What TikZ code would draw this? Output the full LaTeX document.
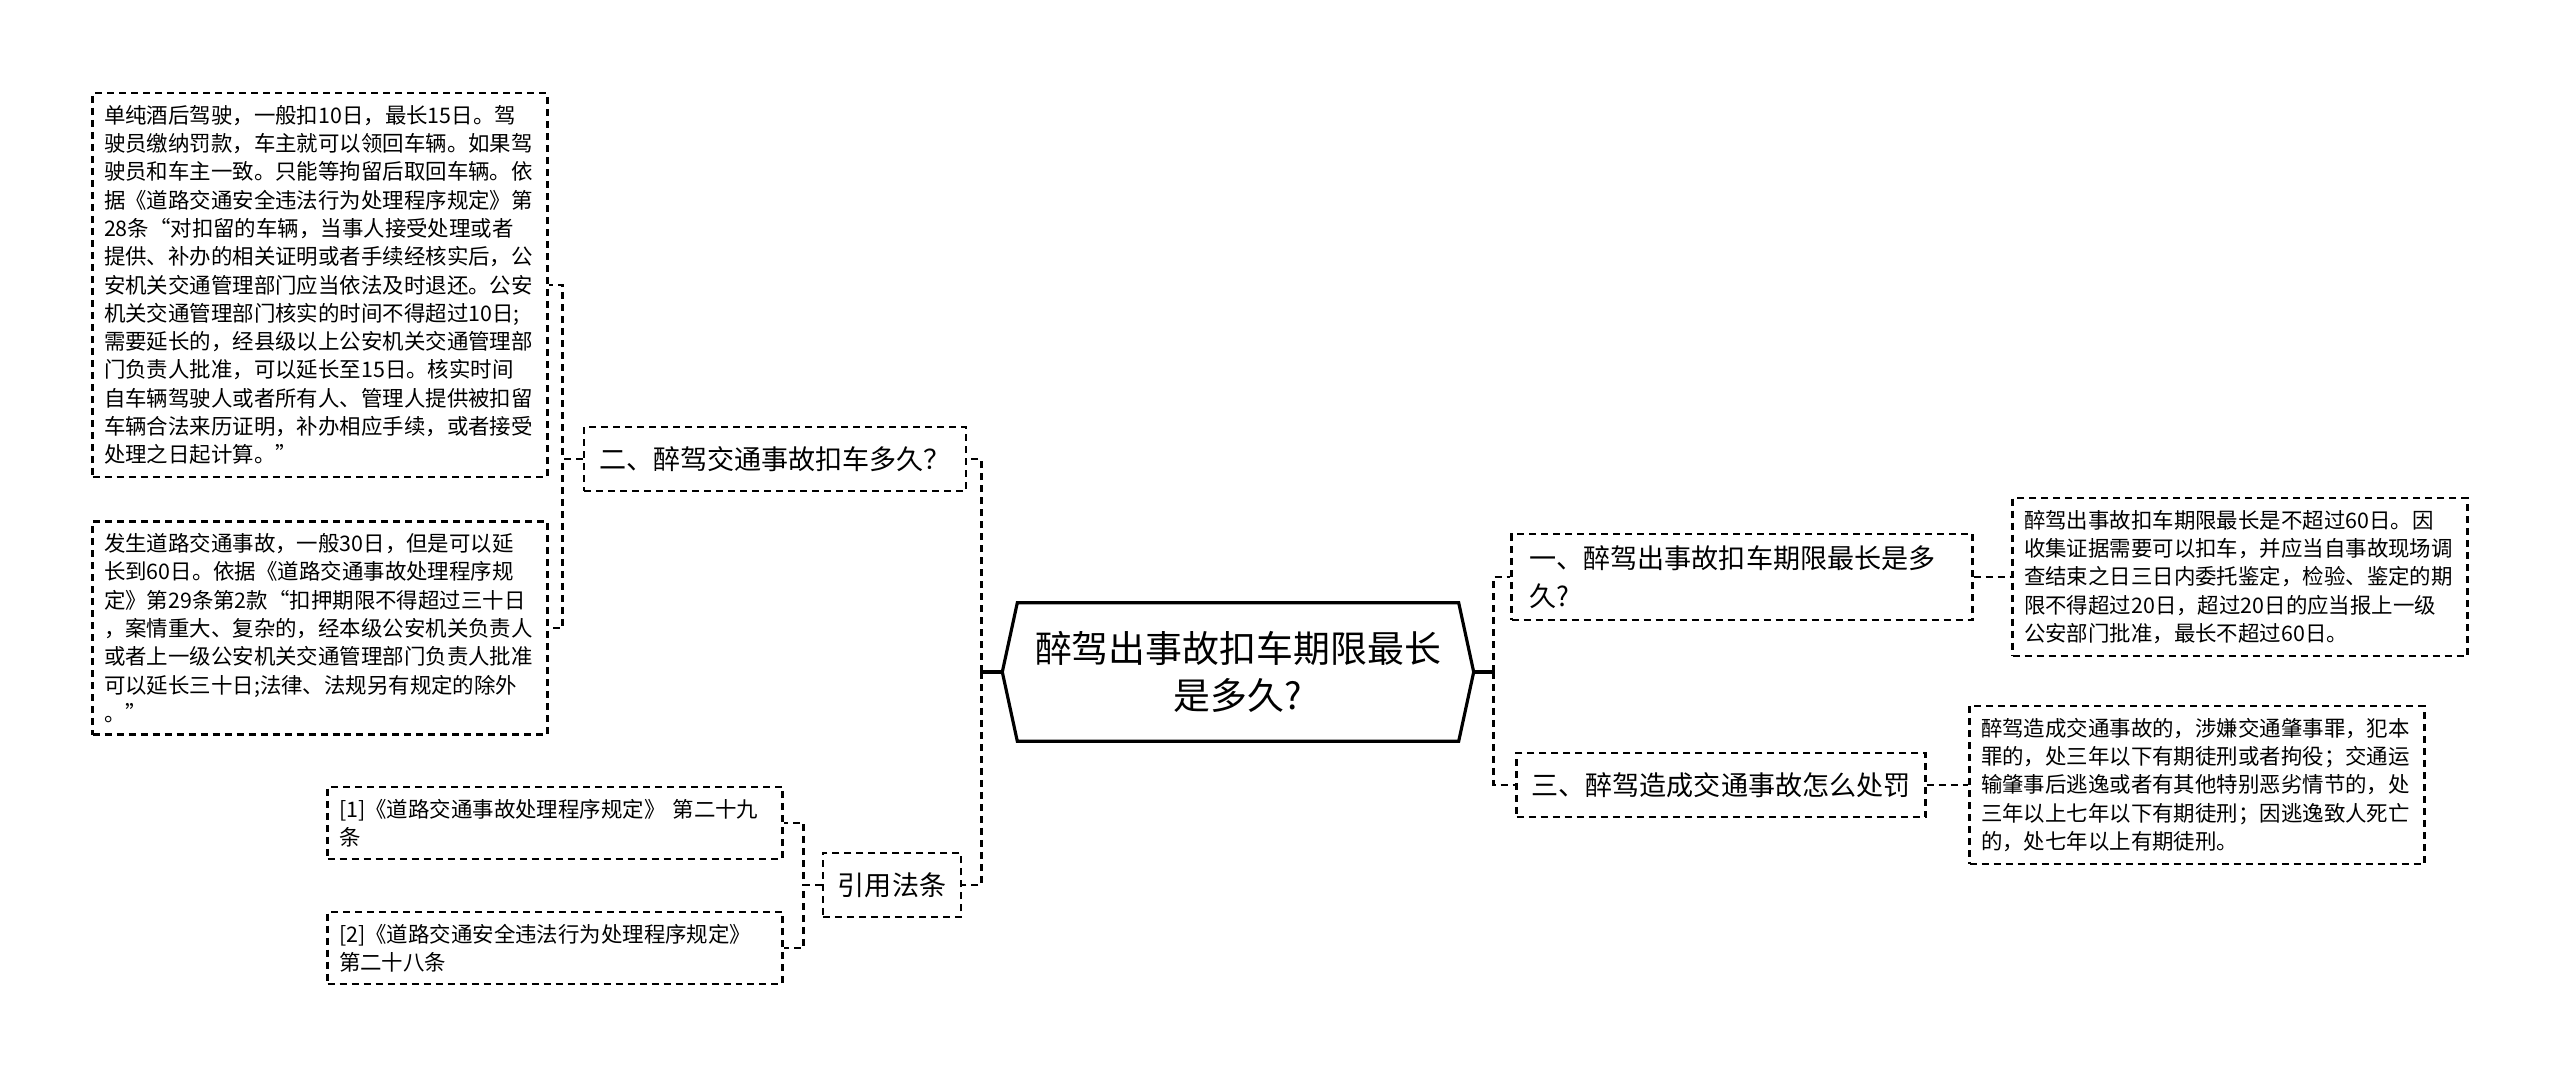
\documentclass[tikz,border=0pt]{standalone}
\usepackage{fontspec}
\setmainfont{Noto Sans CJK SC}

\begin{document}
\begin{tikzpicture}[x=0.1mm, y=-0.1mm, font=\fontsize{6.1pt}{8.05pt}\selectfont, text=black,
    box/.style  ={draw, dash pattern=on 0.7mm off 0.5mm, line width=0.65pt, text width=43.2mm, inner xsep=1.15mm, inner ysep=1.2mm, align=left},
    qnode/.style={draw, dash pattern=on 0.7mm off 0.5mm, line width=0.65pt, font=\fontsize{7.7pt}{10.7pt}\selectfont, minimum height=6.4mm, inner xsep=1.5mm, align=left},
    rootnode/.style={minimum width=47mm, minimum height=13.7mm, font=\fontsize{10.5pt}{13.3pt}\selectfont, align=center},
    link/.style ={draw, dash pattern=on 0.7mm off 0.5mm, line width=0.85pt},
    stub/.style ={draw, line width=0.9pt},
  ]
  \useasboundingbox (0,0) rectangle (2560,1079);
  % centre
  \node[rootnode] (root) at (1238,672) {醉驾出事故扣车期限最长\\是多久?};
  \draw[line width=0.9pt] (root.west) -- ([xshift=1.5mm]root.north west) -- ([xshift=-1.5mm]root.north east) -- (root.east)
    -- ([xshift=-1.5mm]root.south east) -- ([xshift=1.5mm]root.south west) -- cycle;
  % left branch
  \node[qnode] (q2) at (775,459) {二、醉驾交通事故扣车多久？};
  \node[qnode] (cite) at (892,885) {引用法条};
  \node[box] (lbox1) at (320,285) {单纯酒后驾驶，一般扣10日，最长15日。驾\\
    驶员缴纳罚款，车主就可以领回车辆。如果驾\\
    驶员和车主一致。只能等拘留后取回车辆。依\\
    据《道路交通安全违法行为处理程序规定》第\\
    28条“对扣留的车辆，当事人接受处理或者\\
    提供、补办的相关证明或者手续经核实后，公\\
    安机关交通管理部门应当依法及时退还。公安\\
    机关交通管理部门核实的时间不得超过10日;\\
    需要延长的，经县级以上公安机关交通管理部\\
    门负责人批准，可以延长至15日。核实时间\\
    自车辆驾驶人或者所有人、管理人提供被扣留\\
    车辆合法来历证明，补办相应手续，或者接受\\
    处理之日起计算。”};
  \node[box] (lbox2) at (320,628) {发生道路交通事故，一般30日，但是可以延\\
    长到60日。依据《道路交通事故处理程序规\\
    定》第29条第2款“扣押期限不得超过三十日\\
    ，案情重大、复杂的，经本级公安机关负责人\\
    或者上一级公安机关交通管理部门负责人批准\\
    可以延长三十日;法律、法规另有规定的除外\\
    。”};
  \node[box] (ref1) at (555,823) {[1]《道路交通事故处理程序规定》 第二十九\\条};
  \node[box] (ref2) at (555,948) {[2]《道路交通安全违法行为处理程序规定》\\第二十八条};
  % right branch
  \node[qnode, text width=42.5mm, inner xsep=1.8mm] (q1) at (1742,577) {一、醉驾出事故扣车期限最长是多\\久?};
  \node[qnode] (q3) at (1721,785) {三、醉驾造成交通事故怎么处罚};
  \node[box] (rbox1) at (2240,577) {醉驾出事故扣车期限最长是不超过60日。因\\
    收集证据需要可以扣车，并应当自事故现场调\\
    查结束之日三日内委托鉴定，检验、鉴定的期\\
    限不得超过20日，超过20日的应当报上一级\\
    公安部门批准，最长不超过60日。};
  \node[box] (rbox2) at (2197,785) {醉驾造成交通事故的，涉嫌交通肇事罪，犯本\\
    罪的，处三年以下有期徒刑或者拘役；交通运\\
    输肇事后逃逸或者有其他特别恶劣情节的，处\\
    三年以上七年以下有期徒刑；因逃逸致人死亡\\
    的，处七年以上有期徒刑。};
  % connectors
  \draw[stub] (root.west) -- ++(-2.1mm,0) coordinate (rl);
  \draw[stub] (root.east) -- ++(2mm,0) coordinate (rr);
  \foreach \n in {q2,cite}{
    \draw[link] (rl) |- (\n.east);
  }
  \foreach \n in {q1,q3}{
    \draw[link] (rr) |- (\n.west);
  }
  \foreach \n in {lbox1,lbox2}{
    \draw[link] (q2.west) -- ++(-2mm,0) |- (\n.east);
  }
  \foreach \n in {ref1,ref2}{
    \draw[link] (cite.west) -- ++(-1.8mm,0) |- (\n.east);
  }
  \draw[link] (q1.east) -- (rbox1.west);
  \draw[link] (q3.east) -- (rbox2.west);
\end{tikzpicture}
\end{document}
